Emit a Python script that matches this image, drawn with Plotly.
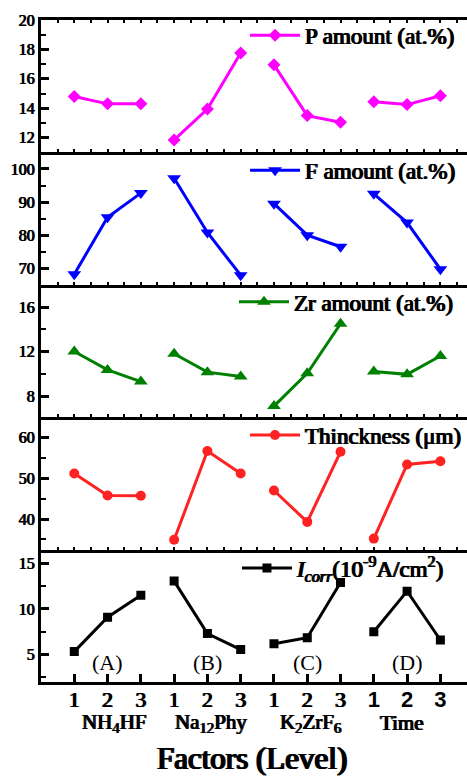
import plotly.graph_objects as go
from plotly.subplots import make_subplots

# ---------------- data ----------------
x_pos = list(range(1, 13))
tick_labels = ["1", "2", "3"] * 4
factor_names = ["NH<sub>4</sub>HF", "Na<sub>12</sub>Phy", "K<sub>2</sub>ZrF<sub>6</sub>", "Time"]
factor_label_shift = [0.2, 0.1, 0.1, -0.15]
factor_tags = ["(A)", "(B)", "(C)", "(D)"]

p_amount = [14.8, 14.3, 14.3, 11.85, 13.95, 17.75, 16.95, 13.5, 13.05, 14.45, 14.25, 14.85]
f_amount = [68.2, 85.4, 92.7, 97.2, 80.8, 67.9, 89.5, 80.0, 76.5, 92.5, 83.8, 69.7]
zr_amount = [12.0, 10.35, 9.3, 11.8, 10.15, 9.75, 7.1, 10.05, 14.5, 10.2, 9.95, 11.6]
thickness = [51.2, 45.8, 45.7, 34.9, 56.7, 51.2, 47.0, 39.3, 56.5, 35.2, 53.4, 54.2]
icorr = [5.33, 9.1, 11.5, 13.05, 7.3, 5.55, 6.2, 6.85, 12.9, 7.5, 11.95, 6.6]

series_names = [
    "P amount (at.%)",
    "F amount (at.%)",
    "Zr amount (at.%)",
    "Thinckness (\u03bcm)",
    "<i>I</i><sub><i>corr</i></sub>(10<sup>-9</sup>A/cm<sup>2</sup>)",
]
series_vals = [p_amount, f_amount, zr_amount, thickness, icorr]
colors = ["#FF00FF", "#0000FF", "#008000", "#FF2222", "#000000"]
symbols = ["diamond", "triangle-down", "triangle-up", "circle", "square"]
msizes = [10, 12, 12, 10, 9]
y_ranges = [[11, 20], [65, 105], [6.1, 18], [32.5, 65], [2, 16.5]]
y_dticks = [2, 10, 4, 10, 5]
legend_y = [0.977, 0.773, 0.5745, 0.373, 0.172]
legend_x = [0.479, 0.479, 0.453, 0.479, 0.46]

SERIF = "Liberation Serif"
BOLD_S = "0.5px 0px 0px black, -0.5px 0px 0px black"
BOLD_M = "0.7px 0px 0px black, -0.7px 0px 0px black"
BOLD_L = "1px 0px 0px black, -1px 0px 0px black"

fig = make_subplots(rows=5, cols=1, shared_xaxes=True, vertical_spacing=0)


def gapped(vals):
    xs, ys = [], []
    for g in range(4):
        xs += x_pos[g * 3:(g + 1) * 3] + [None]
        ys += vals[g * 3:(g + 1) * 3] + [None]
    return xs, ys


for i in range(5):
    xs, ys = gapped(series_vals[i])
    lg = "legend" if i == 0 else f"legend{i + 1}"
    fig.add_trace(
        go.Scatter(
            x=xs, y=ys, mode="lines+markers", name=series_names[i],
            line=dict(color=colors[i], width=3),
            marker=dict(symbol=symbols[i], size=msizes[i], color=colors[i]),
            legend=lg, showlegend=True, hoverinfo="skip",
        ),
        row=i + 1, col=1,
    )
    fig.update_yaxes(
        row=i + 1, col=1,
        range=y_ranges[i], dtick=y_dticks[i], automargin=False,
        showline=True, linecolor="black", linewidth=3, mirror=False,
        ticks="inside", ticklen=8, tickwidth=2.5, tickcolor="black",
        minor=dict(ticks="inside", ticklen=5, tickwidth=2, tickcolor="black",
                   dtick=y_dticks[i] / 2, showgrid=False),
        showgrid=False, zeroline=False,
        tickfont=dict(family=SERIF, size=16, color="black", shadow=BOLD_S),
    )
    if i < 4:
        fig.update_xaxes(
            row=i + 1, col=1, range=[0, 12.8], automargin=False,
            showline=True, linecolor="black", linewidth=3,
            mirror="allticks" if i == 0 else False,
            ticks="inside", ticklen=3, tickwidth=1.5, tickcolor="black", dtick=0.5,
            showticklabels=False, showgrid=False, zeroline=False,
        )
    else:
        ticktext = []
        for k, t in enumerate(tick_labels):
            if k >= 9:
                ticktext.append(f"<span style='font-family:Liberation Sans;font-weight:bold;text-shadow:none'>{t}</span>")
            else:
                ticktext.append(t)
        fig.update_xaxes(
            row=i + 1, col=1, range=[0, 12.8], automargin=False,
            showline=True, linecolor="black", linewidth=3, mirror=False,
            ticks="inside", ticklen=8, tickwidth=2.5, tickcolor="black",
            tickmode="array", tickvals=x_pos, ticktext=ticktext,
            ticklabelstandoff=-4,
            showgrid=False, zeroline=False,
            tickfont=dict(family=SERIF, size=22, color="black", shadow=BOLD_M),
        )

lay = {}
for i in range(5):
    key = "legend" if i == 0 else f"legend{i + 1}"
    lay[key] = dict(
        xanchor="left", yanchor="middle", x=legend_x[i], y=legend_y[i],
        bgcolor="rgba(0,0,0,0)", borderwidth=0, itemwidth=50,
        font=dict(family=SERIF, size=23, color="black", shadow=BOLD_M),
    )
fig.update_layout(**lay)

annotations = []
for g in range(4):
    annotations.append(dict(
        x=x_pos[g * 3 + 1], y=4.1, xref="x5", yref="y5", text=factor_tags[g],
        showarrow=False, font=dict(family=SERIF, size=22, color="black"),
    ))
    annotations.append(dict(
        x=x_pos[g * 3 + 1] + factor_label_shift[g], y=-0.062, xref="x5", yref="paper",
        yanchor="middle", text=factor_names[g], showarrow=False,
        font=dict(family=SERIF, size=21, color="black", shadow=BOLD_M),
    ))
annotations.append(dict(
    x=0.495, y=-0.1163, xref="paper", yref="paper", yanchor="middle",
    text="Factors (Level)", showarrow=False,
    font=dict(family=SERIF, size=31, color="black", shadow=BOLD_L),
))

fig.update_layout(
    width=467, height=778,
    margin=dict(l=41, r=0, t=20, b=96),
    plot_bgcolor="white", paper_bgcolor="white",
    annotations=annotations,
)

fig.write_html("out.html", config={"displayModeBar": False},
               post_script="document.body.style.margin='0';")
